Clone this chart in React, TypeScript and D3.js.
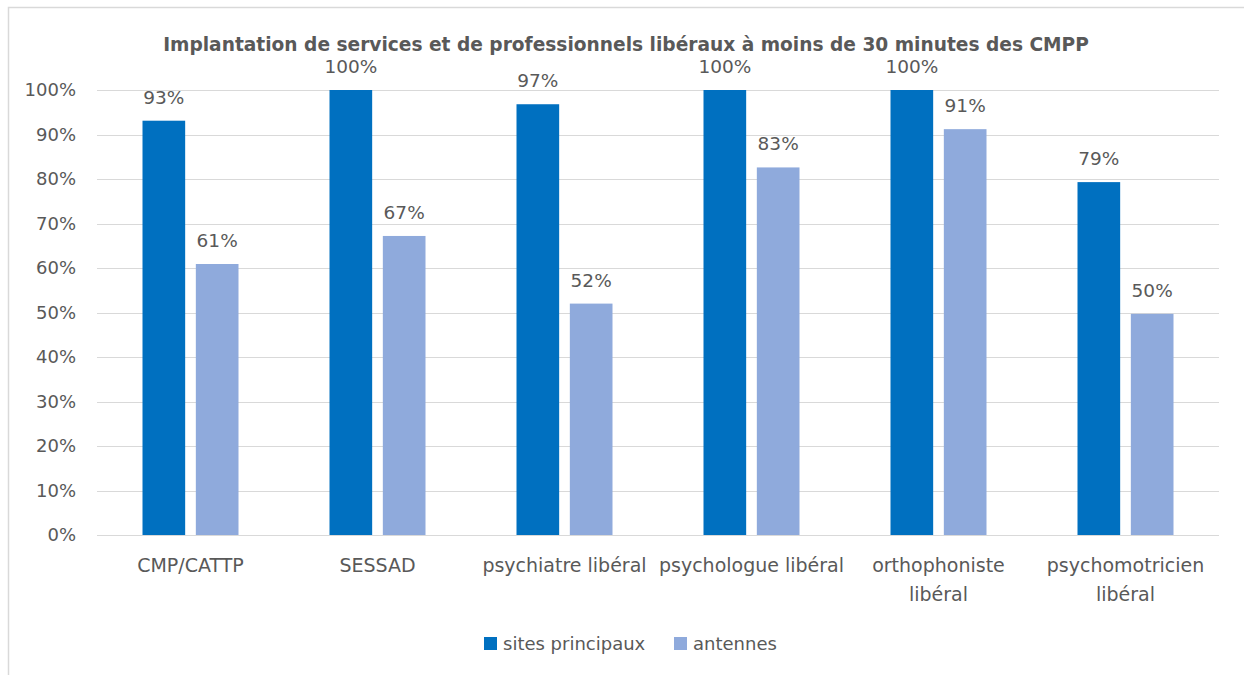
import React from "react";
import * as d3 from "d3";

const title = "Implantation de services et de professionnels libéraux à moins de 30 minutes des CMPP";
const categories = [
  "CMP/CATTP",
  "SESSAD",
  "psychiatre libéral",
  "psychologue libéral",
  "orthophoniste libéral",
  "psychomotricien libéral",
];
const categoryLines = [
  ["CMP/CATTP"],
  ["SESSAD"],
  ["psychiatre libéral"],
  ["psychologue libéral"],
  ["orthophoniste", "libéral"],
  ["psychomotricien", "libéral"],
];
const seriesNames = ["sites principaux", "antennes"];
const sitesPrincipaux = [0.931, 1.0, 0.968, 1.0, 1.0, 0.793];
const antennes = [0.609, 0.672, 0.52, 0.826, 0.912, 0.497];
const seriesColors = ["#0070C0", "#8FAADC"];
const yTicks = [0, 0.1, 0.2, 0.3, 0.4, 0.5, 0.6, 0.7, 0.8, 0.9, 1.0];

const W = 1244;
const H = 675;
const FONT = "'DejaVu Sans', sans-serif";
const TEXT = "#595959";

export default function App() {
  const left = 97;
  const right = 1219;
  const top = 90;
  const bottom = 535;

  const x0 = d3.scaleBand<string>().domain(categories).range([left, right]).paddingInner(0).paddingOuter(0);
  const groupPad = 45.5;
  const x1 = d3
    .scaleBand<string>()
    .domain(seriesNames)
    .range([groupPad, x0.bandwidth() - groupPad])
    .paddingInner(0.2)
    .paddingOuter(0);
  const y = d3.scaleLinear().domain([0, 1]).range([bottom, top]);
  const fmt = d3.format(".0%");
  const data = [sitesPrincipaux, antennes];

  return (
    <svg
      width={W}
      height={H}
      style={{ position: "absolute", left: 0, top: 0, background: "#fff" }}
      fontFamily={FONT}
    >
      <rect x={8.5} y={7.5} width={1300} height={800} fill="#fff" stroke="#d9d9d9" strokeWidth={1.5} />
      <text x={626} y={51} textAnchor="middle" fontSize={18.6} fontWeight="bold" fill={TEXT}>
        {title}
      </text>
      {yTicks.map((t) => (
        <g key={t}>
          <line x1={left} x2={right} y1={Math.round(y(t)) + 0.5} y2={Math.round(y(t)) + 0.5} stroke="#d9d9d9" strokeWidth={1} />
          <text x={76} y={y(t)} dy="0.35em" textAnchor="end" fontSize={18} fill={TEXT}>
            {fmt(t)}
          </text>
        </g>
      ))}
      {categories.map((c, i) => (
        <g key={c} transform={`translate(${x0(c)},0)`}>
          {seriesNames.map((s, j) => {
            const v = data[j][i];
            const bx = x1(s)!;
            return (
              <g key={s}>
                <rect x={bx} y={y(v)} width={x1.bandwidth()} height={bottom - y(v)} fill={seriesColors[j]} />
                <text x={bx + x1.bandwidth() / 2} y={y(v) - 17} textAnchor="middle" fontSize={18.5} fill={TEXT}>
                  {fmt(v)}
                </text>
              </g>
            );
          })}
          {categoryLines[i].map((ln, k) => (
            <text key={k} x={x0.bandwidth() / 2} y={572 + k * 28.5} textAnchor="middle" fontSize={19} fill={TEXT}>
              {ln}
            </text>
          ))}
        </g>
      ))}
      <g>
        <rect x={484} y={637} width={13} height={13} fill={seriesColors[0]} />
        <text x={503} y={650} fontSize={18} fill={TEXT}>{seriesNames[0]}</text>
        <rect x={674} y={637} width={13} height={13} fill={seriesColors[1]} />
        <text x={693} y={650} fontSize={18} fill={TEXT}>{seriesNames[1]}</text>
      </g>
    </svg>
  );
}
